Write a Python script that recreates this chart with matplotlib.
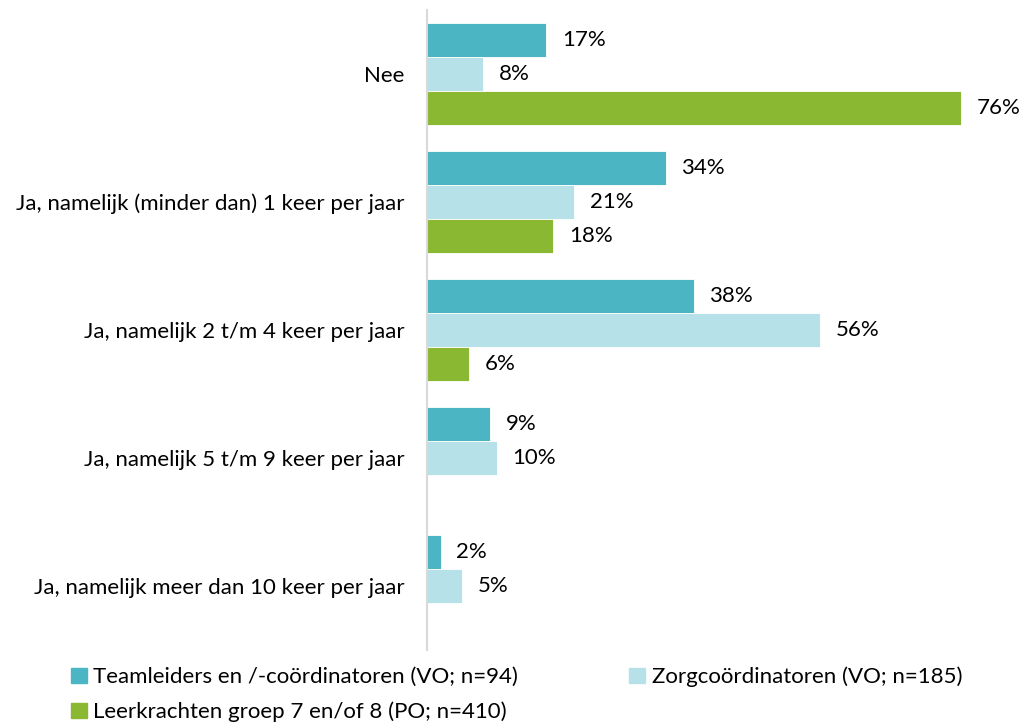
import numpy as np
import matplotlib.pyplot as plt
from matplotlib.patches import Patch

plt.rcParams['font.family'] = ['Lato', 'DejaVu Sans']

categories = ['Nee', 'Ja, namelijk (minder dan) 1 keer per jaar',
              'Ja, namelijk 2 t/m 4 keer per jaar', 'Ja, namelijk 5 t/m 9 keer per jaar',
              'Ja, namelijk meer dan 10 keer per jaar']
series = ['Teamleiders en /-coördinatoren (VO; n=94)',
          'Zorgcoördinatoren (VO; n=185)',
          'Leerkrachten groep 7 en/of 8 (PO; n=410)']
teamleiders = [17, 34, 38, 9, 2]
zorg = [8, 21, 56, 10, 5]
leerkrachten = [76, 18, 6, None, None]
colors = ['#4BB5C4', '#B7E1E8', '#8AB833']

fs = 16

fig = plt.figure(figsize=(10.21, 7.26), dpi=100)
ax = fig.add_axes([0.4182, 0.1047, 0.5504, 0.8815])

y = np.arange(len(categories))
h = 0.265
offsets = [-h, 0, h]
for vals, off, c in zip([teamleiders, zorg, leerkrachten], offsets, colors):
    for yi, v in zip(y, vals):
        if v is None:
            continue
        ax.barh(yi + off, v, height=h, color=c, edgecolor='white', linewidth=0.6)
        ax.text(v + 2.2, yi + off, f'{v}%', va='center', ha='left', fontsize=fs)

ax.set_xlim(0, 80)
ax.set_ylim(4.5, -0.5)
ax.set_yticks(y)
ax.set_yticklabels(categories, fontsize=fs)
ax.tick_params(axis='y', length=0, pad=16)
ax.set_xticks([])
for s in ['top', 'right', 'bottom']:
    ax.spines[s].set_visible(False)
ax.spines['left'].set_color('#D9D9D9')
ax.spines['left'].set_linewidth(1.5)

handles = [Patch(color=c) for c in colors]
order = [0, 2, 1]
fig.legend([handles[i] for i in order], [series[i] for i in order],
           loc='upper left', bbox_to_anchor=(0.061, 0.094), ncol=2, frameon=False,
           fontsize=fs, handlelength=0.7, handleheight=0.7, handletextpad=0.3,
           columnspacing=5.0, labelspacing=0.65, borderaxespad=0)

fig.savefig('out.png', dpi=100)
